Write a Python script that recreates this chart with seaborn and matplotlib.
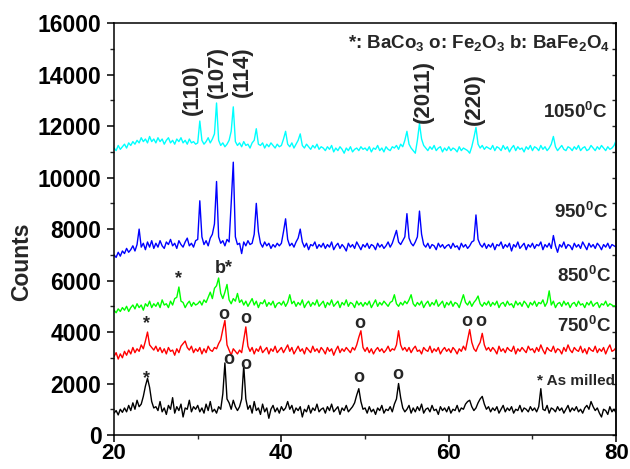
import numpy as np
import pandas as pd
import matplotlib
matplotlib.use("Agg")
import matplotlib.pyplot as plt
import seaborn as sns
from matplotlib.ticker import MultipleLocator

# 2-theta grid: 20 .. 80 deg, step 0.25
theta_start, theta_step = 20.0, 0.25

as_milled = [
    850, 950, 780, 1000, 880, 1050, 900, 1150, 950, 1250, 1000, 1350, 1100, 1200, 1500, 1900, 2200, 1850, 1300, 1050,
    1100, 950, 1300, 900, 1050, 800, 1150, 1000, 1450, 850, 1100, 950, 1200, 700, 1050, 1000, 1350, 900, 1100, 1000,
    1150, 900, 1050, 850, 1200, 950, 1300, 900, 1000, 850, 1100, 1000, 1600, 2800, 1400, 1250, 1000, 1350, 1100, 950,
    1100, 1400, 2700, 1400, 1000, 1150, 850, 1300, 950, 1050, 800, 1200, 900, 1050, 650, 1000, 1150, 900, 1050, 850,
    1100, 950, 1050, 1300, 1000, 1150, 850, 1050, 950, 1100, 700, 1000, 900, 1150, 850, 1050, 950, 1200, 900, 1000,
    1050, 850, 1100, 950, 1200, 900, 1000, 1100, 800, 1050, 950, 1150, 900, 1000, 1100, 1250, 1550, 1800, 1300, 1000,
    1050, 850, 1100, 900, 1000, 800, 1050, 950, 1150, 850, 1000, 950, 1100, 900, 1200, 1400, 2000, 1450, 1050, 900,
    1000, 1150, 850, 1050, 900, 1100, 950, 1200, 850, 1000, 1050, 900, 1150, 950, 1000, 800, 1100, 950, 1050, 900,
    1100, 850, 1000, 950, 1150, 900, 1050, 1000, 1200, 1300, 1350, 1100, 950, 1050, 1250, 1400, 1500, 1200, 1000, 1100,
    900, 1050, 950, 1100, 850, 1000, 1150, 900, 1050, 950, 1100, 850, 1000, 950, 1150, 900, 1050, 1000, 900, 1100,
    950, 1050, 900, 1100, 1800, 1000, 950, 1150, 850, 1050, 1000, 900, 1100, 950, 1050, 850, 1000, 1150, 900, 1050,
    950, 1100, 900, 1000, 850, 1050, 1150, 1000, 1300, 1100, 950, 1050, 850, 700, 1000, 950, 800, 1100, 900, 1000,
    850,
]

t750 = [
    3050, 3200, 2950, 3150, 3000, 3250, 3100, 3300, 3150, 3400, 3200, 3350, 3250, 3500, 3350, 3650, 4000, 3500, 3400, 3300,
    3450, 3250, 3400, 3200, 3350, 3150, 3400, 3250, 3300, 3100, 3350, 3200, 3450, 3550, 3650, 3400, 3300, 3450, 3200, 3350,
    3250, 3400, 3150, 3350, 3200, 3450, 3300, 3250, 3400, 3350, 3550, 3700, 4100, 4450, 3500, 3300, 3100, 3350, 3250, 3150,
    3300, 3200, 3700, 4200, 3450, 3250, 3400, 3150, 3350, 3250, 3450, 3200, 3300, 3400, 3150, 3350, 3250, 3450, 3200, 3300,
    3400, 3200, 3350, 3500, 3250, 3400, 3150, 3300, 3450, 3250, 3350, 3150, 3400, 3300, 3200, 3450, 3250, 3350, 3200, 3400,
    3300, 3150, 3400, 3250, 3350, 3100, 3300, 3450, 3200, 3350, 3250, 3400, 3300, 3200, 3400, 3300, 3500, 3800, 4050, 3400,
    3250, 3400, 3200, 3350, 3150, 3300, 3400, 3250, 3350, 3200, 3300, 3450, 3250, 3350, 3300, 3500, 4050, 3500, 3300, 3400,
    3250, 3400, 3200, 3350, 3450, 3250, 3300, 3150, 3400, 3300, 3250, 3450, 3200, 3350, 3250, 3400, 3150, 3300, 3400, 3250,
    3350, 3200, 3400, 3300, 3150, 3350, 3250, 3450, 3300, 3700, 4100, 3600, 3350, 3250, 3450, 3600, 3950, 3500, 3300, 3400,
    3250, 3400, 3300, 3150, 3450, 3250, 3350, 3200, 3400, 3300, 3250, 3450, 3150, 3350, 3250, 3400, 3300, 3200, 3450, 3300,
    3350, 3200, 3400, 3250, 3500, 3300, 3150, 3400, 3300, 3250, 3450, 3200, 3350, 3300, 3150, 3400, 3250, 3500, 3300, 3200,
    3400, 3300, 3250, 3450, 3200, 3350, 3150, 3400, 3300, 3250, 3450, 3200, 3350, 3250, 3400, 3150, 3350, 3500, 3250, 3300,
    3400,
]

t850 = [
    4850, 4750, 4900, 4800, 4950, 4850, 5000, 4800, 4950, 5050, 4900, 5100, 4950, 5050, 4850, 5100, 5000, 5200, 4950, 5100,
    5000, 5150, 4950, 5250, 5050, 5100, 4950, 5200, 5050, 5300, 5350, 5750, 5200, 5150, 4950, 5100, 5200, 5000, 5150, 5050,
    5100, 5200, 5050, 5250, 5150, 5350, 5550, 5300, 5700, 5800, 6100, 5500, 5300, 5550, 5850, 5250, 5100, 5300, 5200, 5500,
    5150, 5250, 5050, 5200, 5000, 5150, 5300, 5050, 5200, 4950, 5150, 5100, 5250, 5000, 5150, 5050, 5200, 4950, 5100, 5150,
    5050, 5200, 5000, 5150, 5450, 5100, 5200, 5000, 5150, 5050, 5250, 4950, 5100, 5200, 5000, 5150, 5050, 5250, 5000, 5100,
    5200, 4950, 5150, 5050, 5250, 5000, 5100, 5200, 4950, 5150, 5050, 5250, 5000, 5150, 5100, 4950, 5200, 5050, 5150, 5000,
    5150, 5050, 5200, 4950, 5100, 5250, 5000, 5150, 5050, 5200, 5100, 5000, 5150, 5200, 5450, 5100, 5000, 5150, 5050, 5200,
    5100, 5250, 5450, 5100, 5000, 5150, 5050, 5200, 4950, 5100, 5200, 5000, 5150, 5050, 5250, 5000, 5100, 5200, 4950, 5150,
    5050, 5200, 5000, 5150, 5100, 4950, 5200, 5450, 5150, 5050, 5200, 5000, 5150, 5250, 5400, 5100, 5000, 5150, 5050, 5200,
    5000, 5150, 5050, 5200, 4950, 5100, 5150, 5000, 5200, 5050, 5100, 4950, 5200, 5050, 5150, 5000, 5200, 5100, 4950, 5150,
    5050, 5200, 5000, 5150, 5100, 5250, 5000, 5150, 5600, 5050, 5200, 4950, 5100, 5150, 5000, 5200, 5050, 5150, 4950, 5100,
    5150, 5000, 5200, 5050, 5100, 4950, 5150, 5050, 5200, 5000, 5100, 5150, 4950, 5100, 5050, 5200, 5000, 5100, 5050, 5000,
    5050,
]

t950 = [
    7000, 6900, 7100, 6950, 7150, 7050, 7250, 7100, 7200, 7350, 7150, 7400, 8000, 7300, 7450, 7200, 7500, 7300, 7550, 7250,
    7450, 7300, 7550, 7350, 7250, 7500, 7400, 7600, 7350, 7450, 7250, 7550, 7400, 7300, 7500, 7650, 7350, 7450, 7300, 7550,
    7600, 9100, 7700, 7400, 7550, 7350, 7650, 7800, 8200, 9850, 7700, 7450, 7550, 7350, 7600, 7500, 9000, 10600, 7700, 7400,
    7450, 7050, 7500, 7350, 7550, 7400, 7450, 7800, 9000, 7900, 7450, 7300, 7500, 7350, 7450, 7250, 7400, 7300, 7450, 7350,
    7450, 7900, 8400, 7600, 7350, 7450, 7300, 7500, 7650, 8000, 7500, 7300, 7450, 7200, 7400, 7350, 7500, 7250, 7400, 7300,
    7450, 7250, 7400, 7300, 7500, 7200, 7350, 7450, 7250, 7400, 7300, 7150, 7450, 7300, 7400, 7250, 7500, 7350, 7200, 7400,
    7300, 7450, 7250, 7400, 7350, 7200, 7450, 7300, 7400, 7250, 7350, 7500, 7300, 7450, 7700, 7950, 7500, 7400, 7550, 7700,
    8600, 7650, 7450, 7350, 7500, 7700, 8700, 7800, 7400, 7300, 7450, 7250, 7400, 7350, 7200, 7450, 7300, 7400, 7250, 7350,
    7400, 7250, 7450, 7300, 7350, 7200, 7450, 7300, 7400, 7250, 7350, 7500, 7550, 8550, 7600, 7400, 7300, 7450, 7250, 7400,
    7300, 7450, 7200, 7400, 7350, 7500, 7250, 7400, 7300, 7450, 7150, 7400, 7300, 7500, 7250, 7350, 7450, 7200, 7400, 7300,
    7450, 7250, 7400, 7350, 7500, 7200, 7400, 7300, 7450, 7250, 7750, 7350, 7100, 7400, 7300, 7500, 7250, 7400, 7350, 7200,
    7450, 7300, 7400, 7250, 7500, 7350, 7200, 7450, 7300, 7400, 7250, 7450, 7350, 7200, 7400, 7300, 7450, 7250, 7400, 7350,
    7300,
]

t1050 = [
    11150, 11050, 11250, 11100, 11200, 11300, 11150, 11350, 11250, 11400, 11300, 11450, 11350, 11550, 11400, 11500, 11350, 11600, 11400, 11500,
    11350, 11550, 11400, 11500, 11300, 11450, 11550, 11350, 11450, 11300, 11500, 11400, 11550, 11350, 11450, 11300, 11500, 11350, 11400, 11300,
    11350, 12200, 11450, 11300, 11400, 11550, 11350, 11500, 11700, 12900, 11450, 11250, 11350, 11200, 11300, 11450, 11800, 12750, 11400, 11250,
    11350, 11200, 11400, 11250, 11300, 11150, 11350, 11450, 11900, 11300, 11250, 11350, 11150, 11300, 11200, 11350, 11250, 11150, 11300, 11200,
    11250, 11500, 11800, 11300, 11200, 11350, 11150, 11300, 11450, 11700, 11250, 11150, 11300, 11200, 11100, 11250, 11150, 11300, 11100, 11200,
    11150, 11050, 11200, 11100, 11250, 11000, 11150, 11050, 11200, 11100, 10950, 11150, 11050, 11200, 11000, 11100, 11150, 11050, 11200, 11100,
    11150, 11050, 11200, 11000, 11150, 11100, 11250, 11050, 11150, 11000, 11200, 11100, 11050, 11200, 11150, 11250, 11100, 11300, 11200, 11450,
    11800, 11300, 11150, 11050, 10950, 11450, 12100, 11500, 11250, 11150, 11050, 11200, 11100, 11250, 11050, 11150, 11200, 11000, 11150, 11050,
    11200, 11050, 11150, 11100, 11000, 11200, 11050, 11150, 11100, 11050, 10950, 11200, 11550, 11950, 11300, 11150, 11250, 11100, 11200, 11150,
    11100, 11250, 11050, 11200, 11150, 11050, 11250, 11100, 11200, 11000, 11150, 11250, 11050, 11200, 11100, 11150, 11000, 11200, 11100, 11250,
    11050, 11200, 11150, 11050, 11250, 11100, 11200, 11050, 11150, 11300, 11600, 11200, 11050, 11150, 11250, 11100, 11050, 11200, 11150, 11050,
    11200, 11100, 11250, 11050, 11150, 11200, 11050, 11100, 11250, 11150, 11050, 11200, 11100, 11250, 11150, 11050, 11200, 11100, 11150, 11250,
    11450,
]

series_names = ["As milled", "750", "850", "950", "1050"]
series_colors = ["#000000", "#FF0000", "#00FF00", "#0000FF", "#00FFFF"]
series_values = [as_milled, t750, t850, t950, t1050]

temp_labels = ["1050$^0$C", "950$^0$C", "850$^0$C", "750$^0$C"]
hkl_labels = ["(110)", "(107)", "(114)", "(2011)", "(220)"]

frames = []
for name, vals in zip(series_names, series_values):
    n = len(vals)
    frames.append(pd.DataFrame({
        "two_theta": theta_start + theta_step * np.arange(n),
        "counts": vals,
        "sample": name,
    }))
df = pd.concat(frames, ignore_index=True)

sns.set_style("ticks")
plt.rcParams["font.family"] = ["Liberation Sans", "DejaVu Sans"]
plt.rcParams["font.weight"] = "bold"
plt.rcParams["mathtext.fontset"] = "custom"
plt.rcParams["mathtext.rm"] = "Liberation Sans:bold"
plt.rcParams["mathtext.it"] = "Liberation Sans:bold"
plt.rcParams["mathtext.bf"] = "Liberation Sans:bold"
plt.rcParams["mathtext.default"] = "rm"

fig = plt.figure(figsize=(6.3, 4.69), dpi=100)
ax = fig.add_axes([0.181, 0.0725, 0.797, 0.878])

sns.lineplot(data=df, x="two_theta", y="counts", hue="sample",
             hue_order=series_names, palette=series_colors,
             estimator=None, linewidth=1.0, legend=False, ax=ax)

ax.set_xlim(20, 80)
ax.set_ylim(0, 16000)
ax.xaxis.set_major_locator(MultipleLocator(20))
ax.xaxis.set_minor_locator(MultipleLocator(10))
ax.yaxis.set_major_locator(MultipleLocator(2000))
ax.yaxis.set_minor_locator(MultipleLocator(1000))
ax.set_xlabel("")
ax.set_ylabel("Counts", fontsize=16.5, fontweight="bold")
ax.yaxis.set_label_coords(-0.162, 0.42)

for s in ax.spines.values():
    s.set_visible(True)
    s.set_linewidth(1.1)
    s.set_color("black")

ax.tick_params(axis="both", which="major", direction="out", length=5, width=1.1,
               labelsize=16.5, pad=4, colors="black")
ax.tick_params(axis="both", which="minor", direction="out", length=2.6, width=1.0)
ax.tick_params(axis="x", which="major", pad=0.5, labelsize=16)
for lab in ax.get_xticklabels() + ax.get_yticklabels():
    lab.set_fontweight("bold")

sec = ax.secondary_yaxis("right")
sec.yaxis.set_major_locator(MultipleLocator(2000))
sec.yaxis.set_minor_locator(MultipleLocator(1000))
sec.tick_params(which="both", direction="in", length=3, width=1.0, labelright=False)
sec.spines["right"].set_linewidth(1.1)

# phase key
ax.text(79.3, 15050, "*: BaCo$_3$ o: Fe$_2$O$_3$ b: BaFe$_2$O$_4$",
        ha="right", va="baseline", fontsize=13.5, fontweight="bold")

# hkl labels (rotated)
hkl_x = [29.4, 32.3, 35.35, 57.0, 63.0]
hkl_y = [12446, 13108, 13147, 12135, 12057]
for lab, xx, yy in zip(hkl_labels, hkl_x, hkl_y):
    ax.text(xx, yy, lab, rotation=90, ha="center", va="bottom",
            fontsize=16, fontweight="bold")

# temperature labels
temp_y = [12330, 8436, 5945, 3998]
temp_x = [79.0, 79.0, 79.4, 79.4]
for lab, xx, yy in zip(temp_labels, temp_x, temp_y):
    ax.text(xx, yy, lab, ha="right", va="baseline", fontsize=13.5, fontweight="bold")
ax.text(79.9, 1935, "* As milled", ha="right", va="baseline", fontsize=11, fontweight="bold")

# phase markers on peaks
marker_text = ["*", "o", "o", "o", "o",
               "*", "o", "o", "o", "o", "o",
               "*", "b*"]
marker_x = [23.9, 33.7, 35.7, 49.3, 53.9,
            23.9, 33.1, 35.7, 49.4, 62.1, 63.8,
            27.7, 33.1]
marker_y = [2013, 2745, 2558, 2050, 2168,
            4153, 4504, 4348, 4153, 4231, 4231,
            5906, 6295]
for t, xx, yy in zip(marker_text, marker_x, marker_y):
    ax.text(xx, yy, t, ha="center", va="baseline", fontsize=13, fontweight="bold")

fig.savefig("out.png", dpi=100)
